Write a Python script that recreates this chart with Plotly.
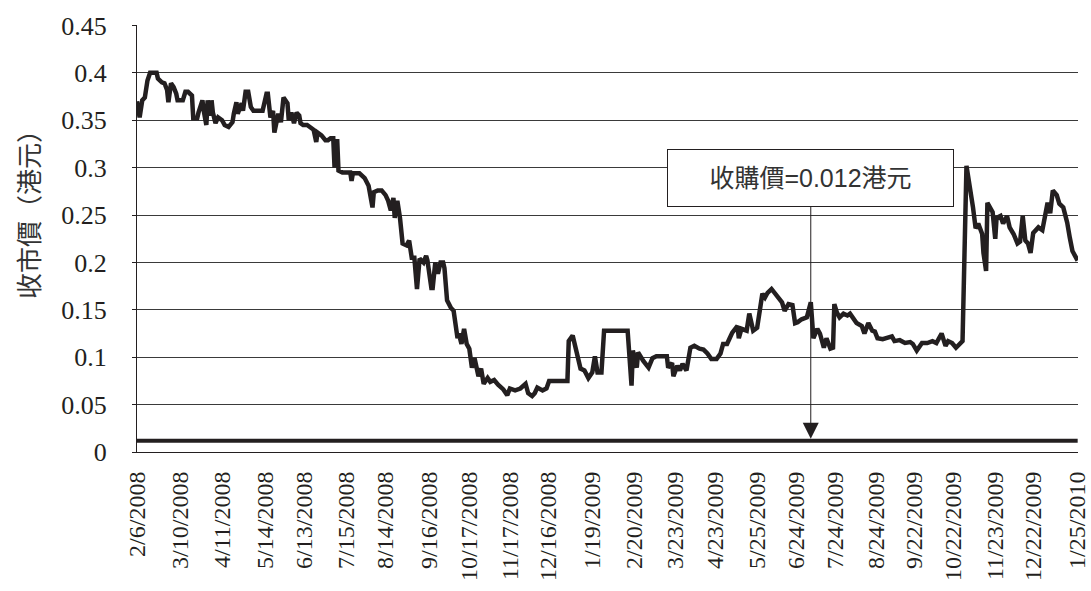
import plotly.graph_objects as go

# ---------------- data ----------------
trade_dates = [
    "2008-02-06", "2008-02-08", "2008-02-10", "2008-02-12", "2008-02-14", "2008-02-16", "2008-02-21", "2008-02-22", "2008-02-25", "2008-02-27", "2008-02-29",
    "2008-03-01", "2008-03-03", "2008-03-05", "2008-03-07", "2008-03-08", "2008-03-12", "2008-03-14", "2008-03-16", "2008-03-19", "2008-03-20", "2008-03-23", "2008-03-24", "2008-03-27", "2008-03-28", "2008-03-30", "2008-03-31",
    "2008-04-02", "2008-04-03", "2008-04-04", "2008-04-06", "2008-04-08", "2008-04-11", "2008-04-13", "2008-04-16", "2008-04-19", "2008-04-20", "2008-04-22", "2008-04-23", "2008-04-26", "2008-04-27", "2008-04-29",
    "2008-05-01", "2008-05-03", "2008-05-05", "2008-05-12", "2008-05-15", "2008-05-16", "2008-05-18", "2008-05-20", "2008-05-21", "2008-05-24", "2008-05-26", "2008-05-28", "2008-05-31",
    "2008-06-01", "2008-06-03", "2008-06-05", "2008-06-07", "2008-06-09", "2008-06-10", "2008-06-12", "2008-06-15", "2008-06-17", "2008-06-20", "2008-06-22", "2008-06-23", "2008-06-26", "2008-06-29",
    "2008-07-01", "2008-07-03", "2008-07-05", "2008-07-06", "2008-07-08", "2008-07-09", "2008-07-12", "2008-07-18", "2008-07-19", "2008-07-20", "2008-07-25", "2008-07-29",
    "2008-08-01", "2008-08-04", "2008-08-05", "2008-08-08", "2008-08-11", "2008-08-14", "2008-08-16", "2008-08-18", "2008-08-20", "2008-08-21", "2008-08-23", "2008-08-25", "2008-08-27", "2008-08-30",
    "2008-09-01", "2008-09-03", "2008-09-05", "2008-09-07", "2008-09-09", "2008-09-12", "2008-09-14", "2008-09-15", "2008-09-18", "2008-09-19", "2008-09-21", "2008-09-23", "2008-09-25", "2008-09-27", "2008-09-28", "2008-09-30",
    "2008-10-03", "2008-10-05", "2008-10-08", "2008-10-09", "2008-10-11", "2008-10-13", "2008-10-15", "2008-10-17", "2008-10-19", "2008-10-21", "2008-10-24", "2008-10-26", "2008-10-28", "2008-10-31",
    "2008-11-02", "2008-11-05", "2008-11-08", "2008-11-12", "2008-11-15", "2008-11-17", "2008-11-21", "2008-11-25", "2008-11-29",
    "2008-12-01", "2008-12-04", "2008-12-06", "2008-12-08", "2008-12-12", "2008-12-15", "2008-12-17", "2008-12-31",
    "2009-01-01", "2009-01-04", "2009-01-07", "2009-01-10", "2009-01-13", "2009-01-16", "2009-01-19", "2009-01-21", "2009-01-23", "2009-01-26", "2009-01-28",
    "2009-02-15", "2009-02-18", "2009-02-19", "2009-02-22", "2009-02-23", "2009-02-27",
    "2009-03-03", "2009-03-06", "2009-03-09", "2009-03-17", "2009-03-18", "2009-03-21", "2009-03-22", "2009-03-25", "2009-03-27", "2009-03-29",
    "2009-04-01", "2009-04-04", "2009-04-07", "2009-04-11", "2009-04-14", "2009-04-17", "2009-04-20", "2009-04-24", "2009-04-27", "2009-04-29",
    "2009-05-02", "2009-05-04", "2009-05-06", "2009-05-10", "2009-05-11", "2009-05-13", "2009-05-17", "2009-05-19", "2009-05-22", "2009-05-25", "2009-05-27", "2009-05-29", "2009-05-31",
    "2009-06-02", "2009-06-05", "2009-06-08", "2009-06-10", "2009-06-13", "2009-06-15", "2009-06-18", "2009-06-21", "2009-06-23", "2009-06-25", "2009-06-28",
    "2009-07-02", "2009-07-05", "2009-07-07", "2009-07-10", "2009-07-12", "2009-07-15", "2009-07-17", "2009-07-20", "2009-07-22", "2009-07-23", "2009-07-25", "2009-07-27", "2009-07-30",
    "2009-08-02", "2009-08-04", "2009-08-06", "2009-08-09", "2009-08-13", "2009-08-15", "2009-08-18", "2009-08-21", "2009-08-23", "2009-08-25", "2009-08-29",
    "2009-09-01", "2009-09-05", "2009-09-07", "2009-09-11", "2009-09-15", "2009-09-19", "2009-09-21", "2009-09-24", "2009-09-28",
    "2009-10-02", "2009-10-06", "2009-10-09", "2009-10-13", "2009-10-16", "2009-10-18", "2009-10-21", "2009-10-24", "2009-10-27", "2009-10-29",
    "2009-11-01", "2009-11-04", "2009-11-06", "2009-11-08", "2009-11-10", "2009-11-13", "2009-11-14", "2009-11-16", "2009-11-17", "2009-11-21", "2009-11-23", "2009-11-24", "2009-11-27", "2009-11-29",
    "2009-12-02", "2009-12-04", "2009-12-07", "2009-12-10", "2009-12-12", "2009-12-14", "2009-12-16", "2009-12-18", "2009-12-20", "2009-12-22", "2009-12-26", "2009-12-29", "2009-12-31",
    "2010-01-02", "2010-01-04", "2010-01-06", "2010-01-09", "2010-01-11", "2010-01-14", "2010-01-17", "2010-01-19", "2010-01-21", "2010-01-23", "2010-01-25",
]

close_hkd = [
    0.37, 0.353, 0.371, 0.374, 0.392, 0.40, 0.40, 0.394, 0.39, 0.389, 0.382,
    0.369, 0.389, 0.385, 0.378, 0.371, 0.371, 0.38, 0.38, 0.376, 0.352, 0.352, 0.358, 0.371, 0.36, 0.345, 0.371,
    0.355, 0.371, 0.358, 0.347, 0.353, 0.35, 0.345, 0.343, 0.348, 0.357, 0.369, 0.357, 0.368, 0.36, 0.38,
    0.38, 0.364, 0.36, 0.36, 0.378, 0.378, 0.353, 0.36, 0.337, 0.357, 0.348, 0.374, 0.368,
    0.35, 0.358, 0.347, 0.358, 0.355, 0.347, 0.345, 0.345, 0.343, 0.34, 0.327, 0.337, 0.334, 0.329,
    0.329, 0.331, 0.331, 0.30, 0.33, 0.297, 0.295, 0.295, 0.286, 0.294, 0.294, 0.289,
    0.281, 0.258, 0.274, 0.276, 0.276, 0.271, 0.265, 0.255, 0.268, 0.247, 0.265, 0.247, 0.22, 0.218,
    0.223, 0.205, 0.205, 0.172, 0.204, 0.2, 0.207, 0.202, 0.173, 0.173, 0.2, 0.188, 0.2, 0.2, 0.194, 0.16,
    0.152, 0.149, 0.12, 0.125, 0.114, 0.13, 0.114, 0.109, 0.089, 0.099, 0.08, 0.088, 0.072, 0.078,
    0.074, 0.076, 0.071, 0.066, 0.06, 0.067, 0.065, 0.067, 0.072,
    0.062, 0.059, 0.062, 0.068, 0.065, 0.067, 0.075, 0.075,
    0.117, 0.123, 0.105, 0.088, 0.086, 0.078, 0.084, 0.101, 0.084, 0.084, 0.128,
    0.128, 0.07, 0.107, 0.089, 0.105, 0.096,
    0.089, 0.099, 0.101, 0.101, 0.089, 0.094, 0.08, 0.091, 0.086, 0.093,
    0.086, 0.11, 0.112, 0.109, 0.108, 0.104, 0.098, 0.098, 0.104, 0.114,
    0.114, 0.12, 0.126, 0.133, 0.12, 0.13, 0.128, 0.146, 0.128, 0.131, 0.146, 0.167, 0.163,
    0.168, 0.172, 0.167, 0.162, 0.158, 0.149, 0.156, 0.155, 0.136, 0.137, 0.14,
    0.142, 0.158, 0.12, 0.13, 0.125, 0.11, 0.12, 0.109, 0.11, 0.156, 0.147, 0.142, 0.146,
    0.144, 0.146, 0.142, 0.136, 0.133, 0.125, 0.136, 0.128, 0.127, 0.12, 0.119,
    0.12, 0.122, 0.117, 0.118, 0.115, 0.116, 0.114, 0.107, 0.115,
    0.115, 0.117, 0.115, 0.125, 0.112, 0.117, 0.115, 0.11, 0.115, 0.117,
    0.302, 0.279, 0.258, 0.236, 0.241, 0.23, 0.21, 0.191, 0.263, 0.253, 0.225, 0.247, 0.249, 0.241,
    0.249, 0.237, 0.23, 0.22, 0.222, 0.249, 0.223, 0.22, 0.21, 0.231, 0.237, 0.234, 0.247,
    0.263, 0.252, 0.276, 0.271, 0.262, 0.258, 0.242, 0.226, 0.212, 0.207, 0.202,
]

tick_dates = [
    "2008-02-06", "2008-03-10", "2008-04-11", "2008-05-14", "2008-06-13", "2008-07-15",
    "2008-08-14", "2008-09-16", "2008-10-17", "2008-11-17", "2008-12-16", "2009-01-19",
    "2009-02-20", "2009-03-23", "2009-04-23", "2009-05-25", "2009-06-24", "2009-07-24",
    "2009-08-24", "2009-09-22", "2009-10-22", "2009-11-23", "2009-12-22", "2010-01-25",
]
tick_labels = [
    "2/6/2008", "3/10/2008", "4/11/2008", "5/14/2008", "6/13/2008", "7/15/2008",
    "8/14/2008", "9/16/2008", "10/17/2008", "11/17/2008", "12/16/2008", "1/19/2009",
    "2/20/2009", "3/23/2009", "4/23/2009", "5/25/2009", "6/24/2009", "7/24/2009",
    "8/24/2009", "9/22/2009", "10/22/2009", "11/23/2009", "12/22/2009", "1/25/2010",
]
y_ticks = [0, 0.05, 0.1, 0.15, 0.2, 0.25, 0.3, 0.35, 0.4, 0.45]
y_tick_labels = ["0", "0.05", "0.1", "0.15", "0.2", "0.25", "0.3", "0.35", "0.4", "0.45"]

OFFER_PRICE = 0.012
offer_text = "收購價=0.012港元"
offer_arrow_date = "2009-07-05"
y_title = "收市價（港元）"

# ---------------- figure ----------------
INK = "#231f20"
SERIF = "Liberation Serif"

fig = go.Figure()

fig.add_trace(go.Scatter(
    x=[trade_dates[0], trade_dates[-1]], y=[OFFER_PRICE, OFFER_PRICE],
    mode="lines", line=dict(color=INK, width=4), hoverinfo="skip", showlegend=False,
))
fig.add_trace(go.Scatter(
    x=trade_dates, y=close_hkd, mode="lines",
    line=dict(color=INK, width=4.5, shape="linear"), showlegend=False,
))

fig.add_annotation(
    x=offer_arrow_date, y=OFFER_PRICE, xref="x", yref="y",
    ax=0, ay=-263, axref="pixel", ayref="pixel",
    text=offer_text, showarrow=True,
    arrowhead=2, arrowsize=3.2, arrowwidth=1, arrowcolor=INK,
    font=dict(family="Liberation Sans, Noto Sans CJK TC", size=25, color="#333333"),
    bgcolor="white", bordercolor=INK, borderwidth=1,
    width=283, height=54, align="center", valign="middle",
    standoff=2,
)

fig.add_annotation(
    x=-0.117, y=0.571, xref="paper", yref="paper",
    text=y_title, showarrow=False, textangle=-90,
    font=dict(family="Noto Sans CJK TC", size=26, color="#333333"),
    xanchor="center", yanchor="middle",
)

fig.update_layout(
    template="none",
    width=1091, height=591,
    margin=dict(l=137, r=13, t=25, b=139, autoexpand=False),
    paper_bgcolor="white", plot_bgcolor="white",
    showlegend=False,
    xaxis=dict(
        type="date", automargin=False,
        range=["2008-02-06", "2010-01-25 06:00"],
        tickmode="array", tickvals=tick_dates, ticktext=tick_labels,
        tickangle=-90, ticks="", ticklabelstandoff=9,
        ticklabeloverflow="allow",
        tickfont=dict(family=SERIF, size=24, color=INK),
        showgrid=False, zeroline=False,
        showline=True, linecolor=INK, linewidth=1,
    ),
    yaxis=dict(
        automargin=False,
        range=[0, 0.4505],
        tickmode="array", tickvals=y_ticks, ticktext=y_tick_labels,
        ticks="outside", ticklen=4, tickcolor=INK,
        ticklabelstandoff=20,
        tickfont=dict(family=SERIF, size=26, color=INK),
        showgrid=True, gridcolor="#3a3a3a", gridwidth=1,
        zeroline=False,
        showline=True, linecolor=INK, linewidth=1,
    ),
)

fig.write_html(
    "out.html",
    config={"displayModeBar": False},
    post_script="document.documentElement.style.overflow='hidden';document.body.style.margin='0';document.body.style.overflow='hidden';",
)
